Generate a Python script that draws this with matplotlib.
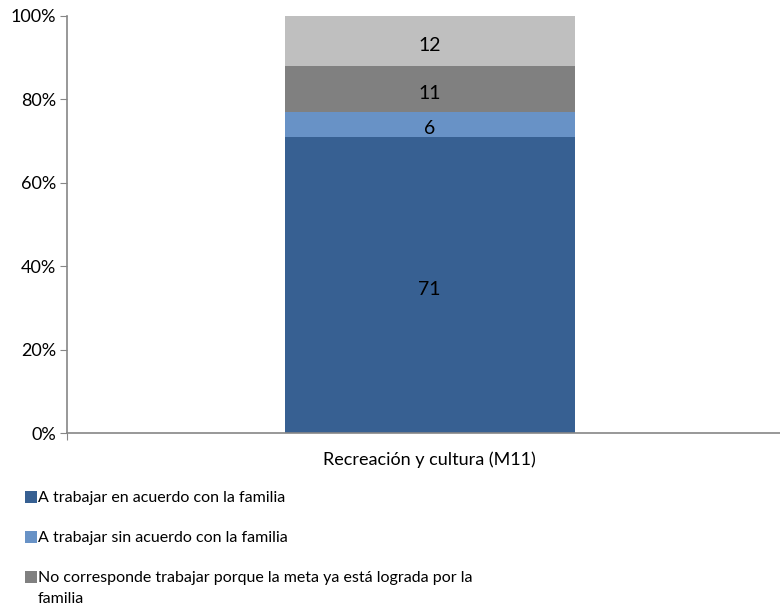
import matplotlib
matplotlib.use("Agg")
import matplotlib.pyplot as plt
import matplotlib.patches as mpatches

plt.rcParams["font.family"] = ["Lato", "DejaVu Sans"]

# Data
category = ["Recreación y cultura (M11)"]
series_labels = [
    "A trabajar en acuerdo con la familia",
    "A trabajar sin acuerdo con la familia",
    "No corresponde trabajar porque la meta ya está lograda por la\nfamilia",
    "Otro",
]
values = [71, 6, 11, 12]
colors = ["#376092", "#6892C6", "#808080", "#BFBFBF"]

W, H = 780, 611
fig = plt.figure(figsize=(W / 100, H / 100), dpi=100)
ax = fig.add_axes([67 / W, 178 / H, 725 / W, 417 / H])

bottom = 0
for v, c in zip(values, colors):
    ax.bar(0, v, bottom=bottom, width=0.4, color=c, edgecolor="none", zorder=2)
    ax.annotate(str(v), (0, bottom + v / 2), xytext=(0, -2.2),
                textcoords="offset points", ha="center", va="center_baseline",
                fontsize=14, color="black", zorder=3)
    bottom += v

ax.set_xlim(-0.5, 0.5)
ax.set_ylim(0, 100)
ax.set_yticks(range(0, 101, 20))
ax.set_yticklabels([f"{t}%" for t in range(0, 101, 20)], fontsize=13)

# category boundaries get tick marks, the label sits at the centre
ax.set_xticks([-0.5, 0.5])
ax.set_xticklabels(["", ""])
ax.set_xticks([0], minor=True)
ax.set_xticklabels(category, minor=True, fontsize=13)
ax.tick_params(axis="x", which="minor", length=0, pad=13)
ax.tick_params(axis="x", which="major", length=5, color="#868686")
ax.tick_params(axis="y", length=5, color="#868686", pad=3)

for s in ["top", "right"]:
    ax.spines[s].set_visible(False)
for s in ["left", "bottom"]:
    ax.spines[s].set_color("#868686")
    ax.spines[s].set_linewidth(1.2)

# legend below the plot, one entry per row (pixel rows from the top)
legend_rows = [497, 537, 577]
for row, c, label in zip(legend_rows, colors[:3], series_labels[:3]):
    fig.patches.append(mpatches.Rectangle(
        (25 / W, 1 - (row + 6) / H), 12 / W, 12 / H,
        facecolor=c, edgecolor="none", transform=fig.transFigure))
    fig.text(38 / W, 1 - (row - 6) / H, label, ha="left", va="top",
             fontsize=11.5, linespacing=1.6)

fig.savefig("out.png", dpi=100, facecolor="white")
